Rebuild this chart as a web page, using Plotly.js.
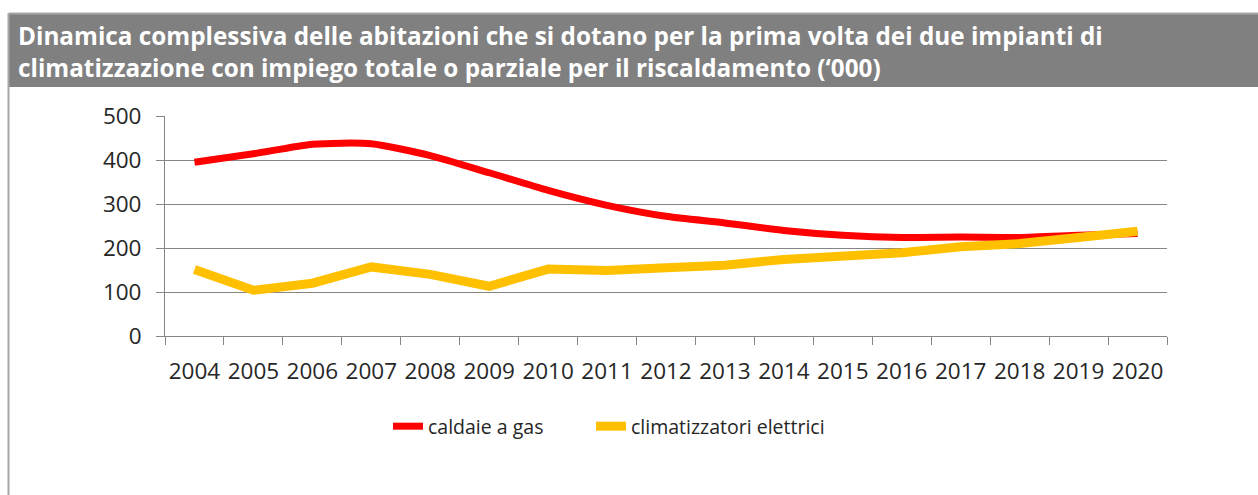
<!DOCTYPE html>
<html>
<head>
<meta charset="utf-8">
<script src="https://cdn.plot.ly/plotly-3.0.1.min.js"></script>
<style>
  html, body { margin: 0; padding: 0; background: #ffffff; }
  #chart { width: 1258px; height: 495px; }
</style>
</head>
<body>
<div id="chart"></div>
<script>
const years = ["2004","2005","2006","2007","2008","2009","2010","2011","2012","2013","2014","2015","2016","2017","2018","2019","2020"];
const caldaieGas = [395, 414, 436, 437, 410, 371, 331, 297, 272, 257, 240, 229, 224, 225, 224, 229, 233];
const climatizzatoriElettrici = [151, 104, 120, 157, 140, 113, 152, 149, 155, 161, 174, 181, 189, 203, 210, 224, 238];
const seriesNames = ["caldaie a gas", "climatizzatori elettrici"];
const titleText = "Dinamica complessiva delle abitazioni che si dotano per la prima volta dei due impianti di<br>climatizzazione con impiego totale o parziale per il riscaldamento (‘000)";

// plot box in pixels: left 165, right 1167, top 116, bottom 336
const PL = 165, PW = 1002, PT = 116, PH = 220;
const px = v => (v - PL) / PW;
const py = v => (PT + PH - v) / PH;

const gridColor = "#868686";
const textColor = "#262626";
const font = "'Open Sans', 'Noto Sans', sans-serif";

const traces = [
  {
    x: years, y: caldaieGas, name: seriesNames[0], type: "scatter", mode: "lines",
    line: { color: "#ff0000", width: 7, shape: "spline", smoothing: 0.6 },
    legend: "legend"
  },
  {
    x: years, y: climatizzatoriElettrici, name: seriesNames[1], type: "scatter", mode: "lines",
    line: { color: "#ffc000", width: 9 },
    legend: "legend2"
  }
];

const legendBase = {
  orientation: "h",
  xanchor: "left",
  y: py(407), yanchor: "top",
  font: { family: font, size: 19.5, color: textColor },
  bgcolor: "rgba(0,0,0,0)",
  itemclick: false, itemdoubleclick: false
};

const layout = {
  width: 1258, height: 495,
  margin: { l: PL, r: 1258 - PL - PW, t: PT, b: 495 - PT - PH, pad: 0 },
  paper_bgcolor: "#ffffff", plot_bgcolor: "#ffffff",
  font: { family: font, color: textColor, size: 22 },
  title: {
    text: titleText,
    font: { family: font, size: 24.3, color: "#ffffff", weight: "bold" },
    xref: "container", yref: "container",
    x: 18 / 1258, xanchor: "left",
    y: 1 - 45 / 495, yanchor: "top"
  },
  xaxis: {
    type: "category",
    range: [-0.5, years.length - 0.5],
    tickson: "boundaries",
    tickangle: 0,
    ticks: "outside", ticklen: 8, tickcolor: gridColor, tickwidth: 1,
    showline: true, linecolor: gridColor, linewidth: 1,
    showgrid: false, zeroline: false,
    tickfont: { family: font, size: 22.5, color: textColor },
    ticklabelstandoff: 15,
    fixedrange: true
  },
  yaxis: {
    range: [0, 500], dtick: 100, tick0: 0,
    ticks: "outside", ticklen: 8, tickcolor: gridColor, tickwidth: 1,
    showline: true, linecolor: gridColor, linewidth: 1,
    showgrid: true, gridcolor: gridColor, gridwidth: 1,
    zeroline: false,
    tickfont: { family: font, size: 22.5, color: textColor },
    ticklabelstandoff: 10,
    fixedrange: true
  },
  legend: Object.assign({}, legendBase, { x: px(388) }),
  legend2: Object.assign({}, legendBase, { x: px(591) }),
  showlegend: true,
  shapes: [
    { type: "rect", xref: "paper", yref: "paper", x0: px(9), x1: px(1260), y0: py(87), y1: py(14),
      fillcolor: "#808080", line: { width: 0 }, layer: "below" },
    { type: "line", xref: "paper", yref: "paper", x0: px(9), x1: px(1260), y0: py(13.5), y1: py(13.5),
      line: { color: "#a6a6a6", width: 2 } },
    { type: "line", xref: "paper", yref: "paper", x0: px(8.5), x1: px(8.5), y0: py(13), y1: py(500),
      line: { color: "#a6a6a6", width: 2 } }
  ]
};

Plotly.newPlot("chart", traces, layout, { displayModeBar: false, staticPlot: true });
</script>
</body>
</html>
